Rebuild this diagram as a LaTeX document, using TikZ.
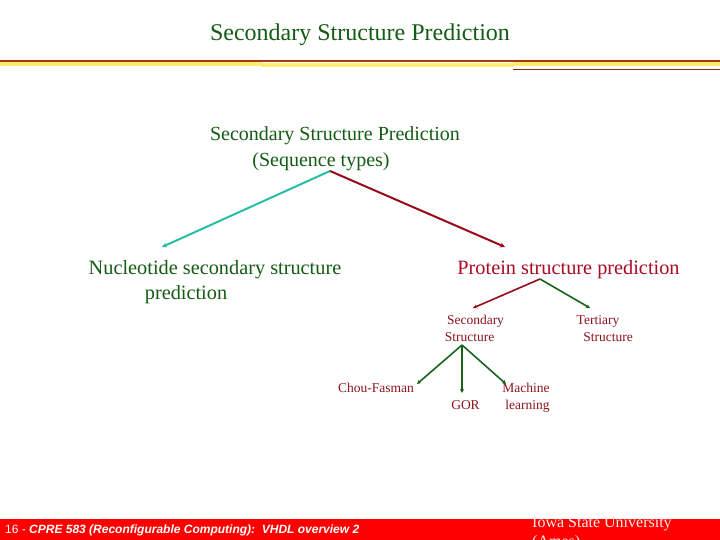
\documentclass[tikz,border=0pt]{standalone}
\usepackage{fontspec}
\setmainfont{Liberation Serif}
\newfontfamily\arialfont{Liberation Sans}
\usetikzlibrary{arrows.meta}
\definecolor{titlegreen}{RGB}{20,92,20}
\definecolor{protred}{RGB}{170,10,35}
\definecolor{labred}{RGB}{140,20,30}
\definecolor{tealc}{RGB}{40,190,165}
\definecolor{arrred}{RGB}{150,10,25}
\definecolor{arrgreen}{RGB}{25,100,25}
\definecolor{hdrline}{RGB}{165,55,20}
\definecolor{hdryellow}{RGB}{255,236,110}
\definecolor{footred}{RGB}{255,0,0}
\tikzset{
  txt/.style={inner sep=0pt, anchor=base},
  bigtitle/.style={txt, text=titlegreen, font=\fontsize{24}{28}\selectfont},
  lvlone/.style={txt, text=titlegreen, font=\fontsize{20}{24}\selectfont},
  lvltwo/.style={txt, font=\fontsize{20.3}{24}\selectfont},
  small/.style={txt, text=labred, font=\fontsize{13.5}{16}\selectfont},
  conn/.style={line width=2pt, -{Stealth[length=5pt,width=5pt]}},
  sconn/.style={line width=1.6pt, -{Stealth[length=4pt,width=4pt]}},
}
\begin{document}
\begin{tikzpicture}[x=1pt,y=-1pt]
\useasboundingbox (0,0) rectangle (720,540);
\fill[white] (0,0) rectangle (720,540);
% header rules
\fill[hdryellow] (0,62) rectangle (262,66);
\fill[hdryellow] (262,63) rectangle (513,67.5);
\fill[hdryellow] (513,62) rectangle (720,66);
\fill[hdrline] (0,60) rectangle (720,62.5);
\draw[hdrline!80!black, line width=1.2pt] (513,69.5) -- (720,69.5);
% title
\node[bigtitle] (title) at (360,41) {Secondary Structure Prediction};
% root
\node[lvlone] (root1) at (335,141) {Secondary Structure Prediction};
\node[lvlone] (root2) at (321,167) {(Sequence types)};
\coordinate (apex) at (330,171);
% level one
\node[lvltwo, text=titlegreen] (nuc1) at (215,274) {Nucleotide secondary structure};
\node[lvltwo, text=titlegreen] (nuc2) at (186,299) {prediction};
\node[lvltwo, text=protred] (prot) at (568.5,274) {Protein structure prediction};
\coordinate (nucend) at (162,247);
\coordinate (protend) at (505,247);
\draw[conn, tealc] (apex) -- (nucend);
\draw[conn, arrred] (apex) -- (protend);
% level two
\coordinate (papex) at (540,279);
\node[small] (sec1) at (475.5,324) {Secondary};
\node[small] (sec2) at (469.5,341) {Structure};
\node[small] (ter1) at (598,324) {Tertiary};
\node[small] (ter2) at (608,341) {Structure};
\coordinate (secend) at (473,308);
\coordinate (terend) at (590,308);
\draw[sconn, arrred] (papex) -- (secend);
\draw[sconn, arrgreen] (papex) -- (terend);
% level three
\coordinate (sapex) at (462,345);
\node[small] (chou) at (376,392) {Chou-Fasman};
\node[small] (gor) at (465.5,409) {GOR};
\node[small] (mach1) at (526,392) {Machine};
\node[small] (mach2) at (527.5,409) {learning};
\coordinate (chouend) at (417,384);
\coordinate (gorend) at (462,393);
\coordinate (machend) at (506,384);
\draw[sconn, arrgreen] (sapex) -- (chouend);
\draw[sconn, arrgreen] (sapex) -- (gorend);
\draw[sconn, arrgreen] (sapex) -- (machend);
% footer
\fill[footred] (0,519) rectangle (720,540);
\node[txt, anchor=base west, text=white, font=\arialfont\fontsize{12}{14}\selectfont] (foot) at (5,533)
  {16 - \textbf{\textit{CPRE 583 (Reconfigurable Computing):\ \ VHDL overview 2}}};
\node[txt, anchor=base west, text=white!92!red, font=\fontsize{16}{18}\selectfont] (isu) at (532,527) {Iowa State University};
\node[txt, anchor=base west, text=white!92!red, font=\fontsize{16}{18}\selectfont] (ames) at (532,546) {(Ames)};
\end{tikzpicture}
\end{document}
